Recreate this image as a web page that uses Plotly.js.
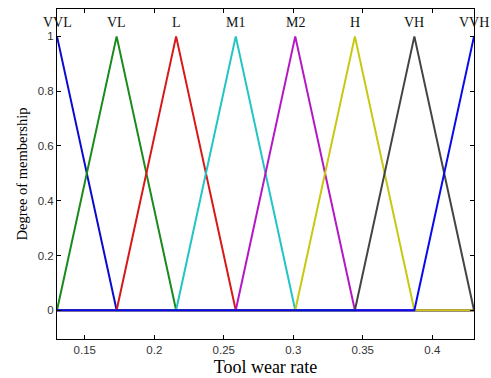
<!DOCTYPE html>
<html>
<head>
<meta charset="utf-8">
<script src="https://cdn.plot.ly/plotly-3.0.1.min.js"></script>
<style>html,body{margin:0;padding:0;background:#fff;}#chart{width:491px;height:378px;}</style>
</head>
<body>
<div id="chart"></div>
<script>
// Membership function labels and peak positions
const labels = ["VVL", "VL", "L", "M1", "M2", "H", "VH", "VVH"];
const peaks = [0.13, 0.1729, 0.2157, 0.2586, 0.3014, 0.3443, 0.3871, 0.43];
const colors = ["#0a0ad0", "#1a8a1a", "#d81818", "#22c4c4", "#b418c4", "#c8c810", "#444444", "#0a0aeb"];

// Polyline vertices for each membership function (over the universe 0.13..0.43)
const vvl_x = [0.13, 0.1729, 0.43];               const vvl_y = [1, 0, 0];
const vl_x  = [0.13, 0.1729, 0.2157, 0.43];       const vl_y  = [0, 1, 0, 0];
const l_x   = [0.13, 0.1729, 0.2157, 0.2586, 0.43]; const l_y = [0, 0, 1, 0, 0];
const m1_x  = [0.13, 0.2157, 0.2586, 0.3014, 0.43]; const m1_y = [0, 0, 1, 0, 0];
const m2_x  = [0.13, 0.2586, 0.3014, 0.3443, 0.43]; const m2_y = [0, 0, 1, 0, 0];
const h_x   = [0.13, 0.3014, 0.3443, 0.3871, 0.43]; const h_y = [0, 0, 1, 0, 0];
const vh_x  = [0.13, 0.3443, 0.3871, 0.43];       const vh_y  = [0, 0, 1, 0];
const vvh_x = [0.13, 0.3871, 0.43];               const vvh_y = [0, 0, 1];

const xs = [vvl_x, vl_x, l_x, m1_x, m2_x, h_x, vh_x, vvh_x];
const ys = [vvl_y, vl_y, l_y, m1_y, m2_y, h_y, vh_y, vvh_y];

const xTicks = [0.15, 0.2, 0.25, 0.3, 0.35, 0.4];
const xTickText = ["0.15", "0.2", "0.25", "0.3", "0.35", "0.4"];
const yTicks = [0, 0.2, 0.4, 0.6, 0.8, 1];
const yTickText = ["0", "0.2", "0.4", "0.6", "0.8", "1"];

const traces = labels.map((lab, i) => ({
  x: xs[i], y: ys[i], type: "scatter", mode: "lines", name: lab,
  line: {color: colors[i], width: 2}, showlegend: false, hoverinfo: "skip"
}));

const annotations = labels.map((lab, i) => ({
  x: peaks[i], y: 1.052, xref: "x", yref: "y", text: lab, showarrow: false,
  xanchor: "center", yanchor: "middle",
  font: {family: "Liberation Serif, Times New Roman, serif", size: 14, color: "#111"}
}));

const layout = {
  width: 491, height: 378,
  margin: {l: 57, r: 17, t: 9, b: 39},
  paper_bgcolor: "#fff", plot_bgcolor: "#fff",
  showlegend: false,
  annotations: annotations,
  xaxis: {
    range: [0.13, 0.43], tickvals: xTicks, ticktext: xTickText,
    ticks: "inside", ticklen: 4, tickcolor: "#000", mirror: "ticks",
    showline: true, linecolor: "#000", linewidth: 1, showgrid: false, zeroline: false,
    tickfont: {family: "Liberation Sans, Arial, sans-serif", size: 11.5, color: "#333"},
    title: {text: "Tool wear rate", standoff: 5,
      font: {family: "Liberation Serif, Times New Roman, serif", size: 18, color: "#000"}}
  },
  yaxis: {
    range: [-0.105, 1.1], tickvals: yTicks, ticktext: yTickText,
    ticks: "inside", ticklen: 4, tickcolor: "#000", mirror: "ticks",
    showline: true, linecolor: "#000", linewidth: 1, showgrid: false, zeroline: false,
    tickfont: {family: "Liberation Sans, Arial, sans-serif", size: 11.5, color: "#333"},
    title: {text: "Degree of membership", standoff: 6,
      font: {family: "Liberation Serif, Times New Roman, serif", size: 14.5, color: "#000"}}
  }
};

Plotly.newPlot("chart", traces, layout, {displayModeBar: false, staticPlot: true});
</script>
</body>
</html>
